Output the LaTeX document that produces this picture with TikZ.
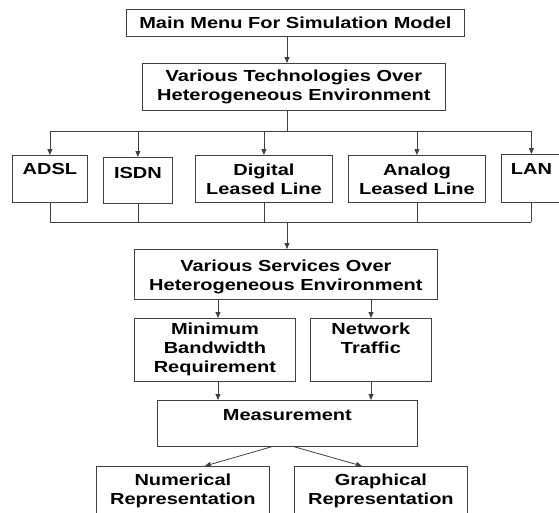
\documentclass[tikz,border=0pt]{standalone}
\usepackage{fontspec}
\newfontfamily\diafont[FakeStretch=1.25]{Liberation Sans}
\usetikzlibrary{arrows.meta,positioning,calc}
\definecolor{MMLine}{HTML}{404040}
\definecolor{MMInk}{HTML}{000000}
\tikzset{
  flow/.style={-{Triangle[length=6pt,width=5pt]},MMLine,line width=0.8pt},
  bus/.style={MMLine,line width=0.8pt},
  box/.style={draw=MMLine,line width=0.8pt,fill=white,anchor=north west,inner sep=0pt},
  boxtext/.style={text=MMInk,font=\diafont\bfseries\fontsize{16}{19}\selectfont,
                  align=center,inner sep=0pt},
  toptext/.style={boxtext,anchor=north},
}

\begin{document}
\begin{tikzpicture}[x=1pt,y=-1pt]
    \useasboundingbox (0,0) rectangle (559,512);
    \clip (0,0) rectangle (559,512);
    \coordinate (spine) at (287,0);
    \coordinate (colL) at (218,0);
    \coordinate (colR) at (371,0);
    \coordinate (busA) at (0,131);
    \coordinate (busB) at (0,222);

    % menu and technologies
    \node[box,minimum width=338pt,minimum height=27pt] (main) at (126,9) {};
    \node[boxtext] (maintxt) at (main.center) {Main Menu For Simulation Model};
    \node[box,minimum width=303pt,minimum height=47pt] (tech) at (142,63) {};
    \node[boxtext] (techtxt) at (tech.center)
      {Various Technologies Over\\Heterogeneous Environment};

    % the five technologies
    \node[box,minimum width=75pt,minimum height=47pt] (adsl) at (12,155) {};
    \node[toptext] (adsltxt) at ([yshift=-8pt]adsl.north) {ADSL};
    \node[box,minimum width=69pt,minimum height=46pt] (isdn) at (103,157) {};
    \node[toptext] (isdntxt) at ([yshift=-10pt]isdn.north) {ISDN};
    \node[box,minimum width=137pt,minimum height=47pt] (digital) at (195,155) {};
    \node[boxtext] (digitaltxt) at (digital.center) {Digital\\Leased Line};
    \node[box,minimum width=137pt,minimum height=47pt] (analog) at (348,155) {};
    \node[boxtext] (analogtxt) at (analog.center) {Analog\\Leased Line};
    \node[box,minimum width=60pt,minimum height=48pt] (lan) at (501,154) {};
    \node[toptext] (lantxt) at ([yshift=-9pt]lan.north) {LAN};

    % services and what is measured
    \node[box,minimum width=303pt,minimum height=50pt] (services) at (134,249) {};
    \node[boxtext] (servicestxt) at ([yshift=-2pt]services.center)
      {Various Services Over\\Heterogeneous Environment};
    \node[box,minimum width=161pt,minimum height=63pt] (minbw) at (134,318) {};
    \node[toptext] (minbwtxt) at ([yshift=-5pt]minbw.north) {Minimum\\Bandwidth\\Requirement};
    \node[box,minimum width=121pt,minimum height=63pt] (network) at (310,318) {};
    \node[toptext] (networktxt) at ([yshift=-5pt]network.north) {Network\\Traffic};
    \node[box,minimum width=260pt,minimum height=46pt] (meas) at (157,400) {};
    \node[toptext] (meastxt) at ([yshift=-9pt]meas.north) {Measurement};
    \node[box,minimum width=173pt,minimum height=60pt] (numer) at (96,466) {};
    \node[toptext] (numertxt) at ([yshift=-8pt]numer.north) {Numerical\\Representation};
    \node[box,minimum width=173pt,minimum height=60pt] (graph) at (294,466) {};
    \node[toptext] (graphtxt) at ([yshift=-8pt]graph.north) {Graphical\\Representation};

    % connectors
    \draw[flow] (main.south -| spine) -- (tech.north -| spine);
    \draw[bus] (tech.south -| spine) -- (busA -| spine);
    \draw[bus] (busA -| adsl.north) -- (busA -| lan.north);
    \foreach \t in {adsl,isdn,digital,analog,lan}{
      \draw[flow] (busA -| \t.north) -- (\t.north);
      \draw[bus] (\t.south) -- (busB -| \t.south);
    }
    \draw[bus] (busB -| adsl.south) -- (busB -| lan.south);
    \draw[flow] (busB -| spine) -- (services.north -| spine);
    \draw[flow] (services.south -| colL) -- (minbw.north -| colL);
    \draw[flow] (services.south -| colR) -- (network.north -| colR);
    \draw[flow] (minbw.south -| colL) -- (meas.north -| colL);
    \draw[flow] (network.south -| colR) -- (meas.north -| colR);
    \draw[flow] ([xshift=-16pt]meas.south) -- ([xshift=22pt]numer.north);
    \draw[flow] ([xshift=7pt]meas.south) -- ([xshift=-19pt]graph.north);
\end{tikzpicture}
\end{document}
